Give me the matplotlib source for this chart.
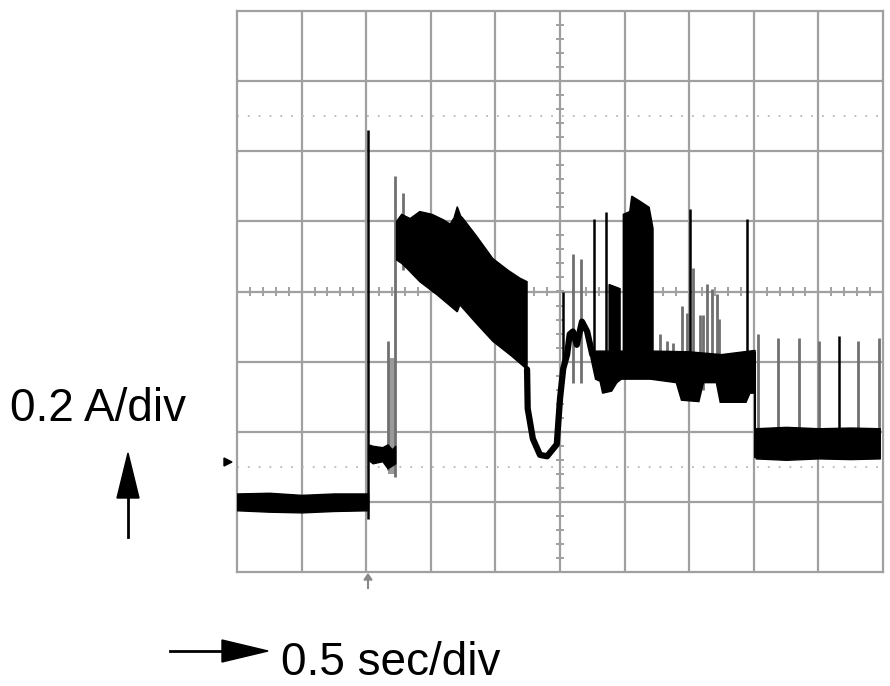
import numpy as np
import matplotlib.pyplot as plt
from matplotlib.patches import Polygon

# scope trace, x in divisions (0.5 s/div), y in divisions (0.2 A/div)
base_t = [0.00, 0.50, 1.00, 1.50, 2.03]
base_hi = [-2.88, -2.87, -2.90, -2.88, -2.88]
base_lo = [-3.12, -3.14, -3.15, -3.13, -3.12]

seg2_t = [2.03, 2.10, 2.25, 2.33, 2.40, 2.45]
seg2_hi = [-2.18, -2.20, -2.22, -2.18, -2.25, -2.20]
seg2_lo = [-2.40, -2.45, -2.42, -2.52, -2.48, -2.45]

b3_t_hi = [2.47, 2.55, 2.68, 2.83, 3.02, 3.20, 3.30, 3.36, 3.41, 3.46, 3.50, 3.70, 3.96, 4.20, 4.38, 4.49]
b3_hi = [1.00, 1.10, 1.04, 1.14, 1.10, 1.02, 0.96, 1.05, 1.21, 1.08, 1.04, 0.80, 0.47, 0.30, 0.19, 0.14]
b3_t_lo = [2.47, 2.55, 2.63, 2.83, 3.10, 3.41, 3.45, 3.70, 3.96, 4.25, 4.49]
b3_lo = [0.45, 0.40, 0.33, 0.14, -0.05, -0.29, -0.19, -0.45, -0.71, -0.92, -1.11]

u_t = [4.49, 4.50, 4.58, 4.69, 4.80, 4.95, 5.00, 5.05, 5.11, 5.15, 5.20, 5.26, 5.34, 5.42, 5.50]
u_y = [-1.11, -1.67, -2.10, -2.33, -2.35, -2.18, -1.53, -1.10, -0.90, -0.61, -0.57, -0.76, -0.43, -0.57, -0.90]

b5_t_hi = [5.48, 5.76, 5.76, 5.93, 5.93, 5.98, 5.98, 6.08, 6.11, 6.25, 6.38, 6.44, 6.44, 7.00, 7.50, 8.02]
b5_hi = [-0.85, -0.85, 0.10, 0.04, -0.85, -0.85, 1.10, 1.14, 1.36, 1.28, 1.20, 0.90, -0.85, -0.86, -0.90, -0.84]
b5_t_lo = [5.48, 5.55, 5.62, 5.66, 5.80, 5.88, 5.95, 6.40, 6.80, 6.88, 7.15, 7.22, 7.42, 7.48, 7.88, 7.94, 8.02]
b5_lo = [-0.95, -1.25, -1.28, -1.45, -1.42, -1.30, -1.25, -1.25, -1.30, -1.55, -1.57, -1.30, -1.30, -1.58, -1.58, -1.45, -1.45]

b6_t = [8.03, 8.50, 9.00, 9.50, 9.95]
b6_hi = [-1.95, -1.93, -1.95, -1.94, -1.95]
b6_lo = [-2.38, -2.40, -2.38, -2.39, -2.38]

# spikes: (time, bottom, top)
spk_black_t = [2.03, 5.05, 5.53, 5.71, 7.01, 7.89, 9.32]
spk_black_lo = [-3.25, -1.10, -1.00, -1.00, -1.00, -1.00, -2.10]
spk_black_hi = [2.31, 0.00, 1.04, 1.14, 1.18, 1.04, -0.64]

spk_gray_t = [2.34, 2.45, 2.57, 5.20, 5.33, 6.55, 6.66, 6.75, 6.89, 6.97, 7.06, 7.17, 7.21,
              7.28, 7.35, 7.43, 7.46, 8.07, 8.37, 8.70, 9.01, 9.61, 9.94]
spk_gray_lo = [-2.55, -2.65, 0.30, -1.30, -1.30, -1.00, -1.00, -1.00, -1.40, -1.40, -1.00, -1.40, -1.40,
               -1.00, -1.00, -1.00, -1.00, -2.10, -2.10, -2.10, -2.10, -2.10, -2.10]
spk_gray_hi = [-0.71, 1.64, 1.40, 0.53, 0.46, -0.61, -0.71, -0.74, -0.21, -0.31, 0.33, -0.33, -0.33,
               0.10, 0.04, -0.03, -0.39, -0.61, -0.67, -0.67, -0.71, -0.71, -0.67]

fig = plt.figure(figsize=(8.9, 6.86), dpi=100)
ax = fig.add_axes([237 / 890, 1 - 572 / 686, 646 / 890, 561 / 686])
ax.set_xlim(0, 10)
ax.set_ylim(-4, 4)
ax.set_xticks([])
ax.set_yticks([])
for s in ax.spines.values():
    s.set_color('#a0a0a0')
    s.set_linewidth(1.6)

gc = '#a0a0a0'
for x in range(1, 10):
    ax.axvline(x, color=gc, lw=1.6, zorder=1)
for y in range(-3, 4):
    ax.axhline(y, color=gc, lw=1.6, zorder=1)
for y in (-2.5, 2.5):
    ax.axhline(y, color='#b8b8b8', lw=1.3, ls=(0, (1, 5)), zorder=1)
# minor ticks on the center axes
mt = np.arange(-4, 4.01, 0.2)
ax.hlines(mt, 4.94, 5.06, color=gc, lw=1.4, zorder=1)
mt = np.arange(0, 10.01, 0.2)
ax.vlines(mt, -0.07, 0.07, color=gc, lw=1.4, zorder=1)

k = 'black'
ax.fill_between(base_t, base_lo, base_hi, color=k, lw=1, zorder=3)
ax.fill_between(seg2_t, seg2_lo, seg2_hi, color=k, lw=1, zorder=3)
ax.fill_between([2.34, 2.44], -2.6, -0.95, color='#9a9a9a', lw=0, zorder=2)
ax.fill(b3_t_hi + b3_t_lo[::-1], b3_hi + b3_lo[::-1], color=k, lw=1, zorder=3)
ax.plot(u_t, u_y, color=k, lw=4.5, solid_capstyle='round', zorder=3)
ax.fill(b5_t_hi + b5_t_lo[::-1], b5_hi + b5_lo[::-1], color=k, lw=1, zorder=3)
ax.vlines([8.02], -2.38, -0.86, color=k, lw=1.5, zorder=3)
ax.fill_between(b6_t, b6_lo, b6_hi, color=k, lw=1, zorder=3)
ax.vlines(spk_gray_t, spk_gray_lo, spk_gray_hi, color='#707070', lw=2, zorder=2)
ax.vlines(spk_black_t, spk_black_lo, spk_black_hi, color=k, lw=1.8, zorder=4)


def fp(px, py):
    return (px / 890, 1 - py / 686)


# channel and trigger markers
fig.patches.append(Polygon([fp(224, 458), fp(224, 466), fp(232, 462)], closed=True,
                           color='black', transform=fig.transFigure))
fig.patches.append(Polygon([fp(364, 580), fp(372, 580), fp(368, 574)], closed=True,
                           color='#888888', transform=fig.transFigure))
fig.lines.append(plt.Line2D([368 / 890, 368 / 890], [1 - 580 / 686, 1 - 588 / 686],
                            color='#888888', lw=1.5, transform=fig.transFigure))

# scale arrows
fig.lines.append(plt.Line2D([128 / 890, 128 / 890], [1 - 537 / 686, 1 - 495 / 686],
                            color='black', lw=2, transform=fig.transFigure))
fig.patches.append(Polygon([fp(117, 498), fp(139, 498), fp(128, 453)], closed=True,
                           color='black', transform=fig.transFigure))
fig.lines.append(plt.Line2D([170 / 890, 225 / 890], [1 - 651 / 686, 1 - 651 / 686],
                            color='black', lw=2, transform=fig.transFigure))
fig.patches.append(Polygon([fp(222, 640), fp(222, 662), fp(268, 651)], closed=True,
                           color='black', transform=fig.transFigure))

fig.text(10 / 890, 1 - 409 / 686, '0.2 A/div', fontsize=33, family='Liberation Sans',
         ha='left', va='center')
fig.text(281 / 890, 1 - 663 / 686, '0.5 sec/div', fontsize=33, family='Liberation Sans',
         ha='left', va='center')

fig.savefig('out.png', dpi=100)
